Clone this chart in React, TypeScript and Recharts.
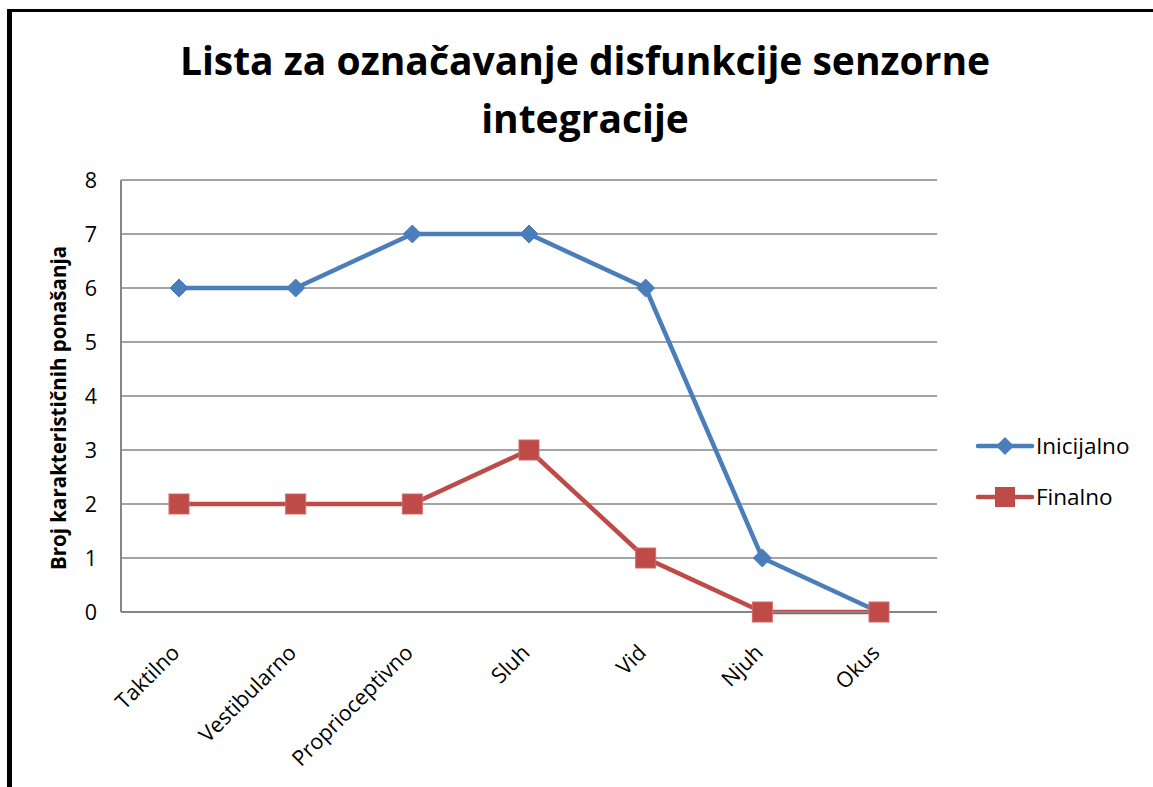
import React from 'react';
import { LineChart, Line, XAxis, YAxis, CartesianGrid } from 'recharts';

const categories = ['Taktilno', 'Vestibularno', 'Proprioceptivno', 'Sluh', 'Vid', 'Njuh', 'Okus'];
const inicijalno = [6, 6, 7, 7, 6, 1, 0];
const finalno = [2, 2, 2, 3, 1, 0, 0];
const yTicks = [0, 1, 2, 3, 4, 5, 6, 7, 8];
const seriesNames = ['Inicijalno', 'Finalno'];

const BLUE = '#4a7ebb';
const RED = '#be4b48';
const FONT = '"Open Sans", Lato, sans-serif';

const data = categories.map((name, i) => ({
  name,
  Inicijalno: inicijalno[i],
  Finalno: finalno[i],
}));

const Diamond = (props: any) => {
  const { cx, cy } = props;
  if (cx == null || cy == null) return null;
  const r = 9;
  return (
    <path
      d={`M${cx},${cy - r}L${cx + r},${cy}L${cx},${cy + r}L${cx - r},${cy}Z`}
      fill={BLUE}
      stroke={BLUE}
      strokeWidth={1}
    />
  );
};

const Square = (props: any) => {
  const { cx, cy } = props;
  if (cx == null || cy == null) return null;
  const s = 10;
  return <rect x={cx - s} y={cy - s} width={s * 2} height={s * 2} fill={RED} stroke="#d36a67" strokeWidth={1} />;
};

const XTick = (props: any) => {
  const { x, y, payload } = props;
  const ax = x + 2;
  const ay = y + 34;
  return (
    <text
      x={ax}
      y={ay}
      textAnchor="end"
      transform={`rotate(-45, ${ax}, ${ay})`}
      fontSize={21.5}
      fontFamily={FONT}
      fill="#000"
    >
      {payload.value}
    </text>
  );
};

const ChartLegend = () => (
  <div style={{ position: 'absolute', left: 975, top: 420, fontFamily: FONT, fontSize: 22.5, color: '#000' }}>
    {seriesNames.map((name, i) => {
      const color = i === 0 ? BLUE : RED;
      return (
        <div key={name} style={{ display: 'flex', alignItems: 'center', height: 51 }}>
          <svg width={60} height={24} style={{ marginRight: 1 }}>
            <line x1={3} y1={12} x2={57} y2={12} stroke={color} strokeWidth={4.5} strokeLinecap="round" />
            {i === 0 ? (
              <path d="M30,3L39,12L30,21L21,12Z" fill={color} />
            ) : (
              <rect x={20} y={2} width={20} height={20} fill={color} />
            )}
          </svg>
          <span>{name}</span>
        </div>
      );
    })}
  </div>
);

export default function App() {
  return (
    <div style={{ position: 'absolute', left: 0, top: 0, width: 1153, height: 787, background: '#fff', overflow: 'hidden' }}>
      <div style={{ position: 'absolute', left: 7, top: 9, width: 1160, height: 800, borderLeft: '5px solid #000', borderTop: '3px solid #000' }} />
      <div
        style={{
          position: 'absolute',
          left: 0,
          width: 1170,
          top: 31,
          textAlign: 'center',
          fontFamily: FONT,
          fontWeight: 'bold',
          fontSize: 39,
          lineHeight: '58px',
          color: '#000',
        }}
      >
        Lista za označavanje disfunkcije senzorne
        <br />
        integracije
      </div>
      <div style={{ position: 'absolute', left: 0, top: 0 }}>
        <LineChart width={1153} height={787} data={data} margin={{ top: 180, right: 216, bottom: 0, left: 41 }}>
          <CartesianGrid vertical={false} stroke="#868686" strokeWidth={1.5} />
          <XAxis
            dataKey="name"
            tick={<XTick />}
            tickLine={false}
            axisLine={{ stroke: '#868686', strokeWidth: 2 }}
            height={175}
            interval={0}
            padding={{ left: 58, right: 58 }}
          />
          <YAxis
            domain={[0, 8]}
            ticks={yTicks}
            width={80}
            tickLine={false}
            axisLine={{ stroke: '#868686', strokeWidth: 2 }}
            tickMargin={18}
            tick={{ fill: '#000', fontSize: 21.5, fontFamily: FONT }}
            label={{
              value: 'Broj karakterističnih ponašanja',
              angle: -90,
              position: 'insideLeft',
              offset: 0,
              dx: 18,
              dy: 12,
              style: { textAnchor: 'middle', fontFamily: FONT, fontWeight: 'bold', fontSize: 20.5, fill: '#000' },
            }}
          />
          <Line
            type="linear"
            dataKey="Inicijalno"
            stroke={BLUE}
            strokeWidth={4.5}
            dot={<Diamond />}
            activeDot={false}
            isAnimationActive={false}
          />
          <Line
            type="linear"
            dataKey="Finalno"
            stroke={RED}
            strokeWidth={4.5}
            dot={<Square />}
            activeDot={false}
            isAnimationActive={false}
          />
        </LineChart>
      </div>
      <ChartLegend />
    </div>
  );
}
